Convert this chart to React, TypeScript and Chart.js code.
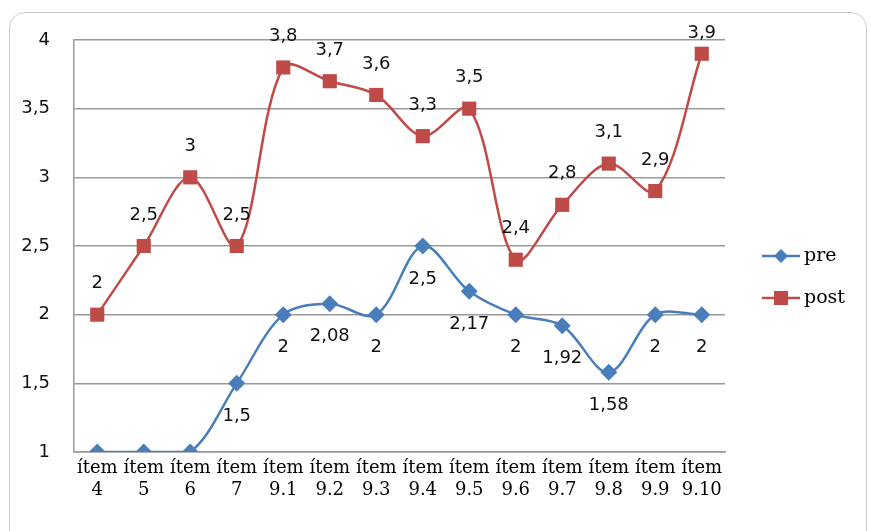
import React, { useEffect, useRef } from "react";
import { Chart, registerables } from "chart.js";

Chart.register(...registerables);

const categories: string[][] = [
  ["ítem", "4"], ["ítem", "5"], ["ítem", "6"], ["ítem", "7"],
  ["ítem", "9.1"], ["ítem", "9.2"], ["ítem", "9.3"], ["ítem", "9.4"],
  ["ítem", "9.5"], ["ítem", "9.6"], ["ítem", "9.7"], ["ítem", "9.8"],
  ["ítem", "9.9"], ["ítem", "9.10"],
];
const preValues = [1, 1, 1, 1.5, 2, 2.08, 2, 2.5, 2.17, 2, 1.92, 1.58, 2, 2];
const postValues = [2, 2.5, 3, 2.5, 3.8, 3.7, 3.6, 3.3, 3.5, 2.4, 2.8, 3.1, 2.9, 3.9];
const yTicks = [1, 1.5, 2, 2.5, 3, 3.5, 4];

const BLUE = "#4A7EBB";
const RED = "#BE4B48";
const fmt = (v: number) => String(v).replace(".", ",");

const labelPlugin = {
  id: "valueLabels",
  afterDatasetsDraw(chart: any) {
    const ctx = chart.ctx;
    ctx.save();
    ctx.font = "18px 'DejaVu Sans'";
    ctx.fillStyle = "#111";
    ctx.textAlign = "center";
    ctx.textBaseline = "middle";
    chart.data.datasets.forEach((ds: any, i: number) => {
      const meta = chart.getDatasetMeta(i);
      meta.data.forEach((pt: any, j: number) => {
        const v = ds.data[j];
        if (i === 0) {
          if (v <= 1) return;
          ctx.fillText(fmt(v), pt.x, pt.y + 33);
        } else {
          ctx.fillText(fmt(v), pt.x, Math.max(pt.y - 31, 33));
        }
      });
    });
    // legend
    const items = [
      { label: "pre", color: BLUE, y: 256, style: "diamond" },
      { label: "post", color: RED, y: 298, style: "square" },
    ];
    items.forEach((it) => {
      ctx.strokeStyle = it.color;
      ctx.lineWidth = 2.5;
      ctx.beginPath();
      ctx.moveTo(762, it.y);
      ctx.lineTo(800, it.y);
      ctx.stroke();
      ctx.fillStyle = it.color;
      ctx.beginPath();
      if (it.style === "diamond") {
        ctx.moveTo(781, it.y - 7);
        ctx.lineTo(788, it.y);
        ctx.lineTo(781, it.y + 7);
        ctx.lineTo(774, it.y);
        ctx.closePath();
        ctx.fill();
      } else {
        ctx.fillRect(774, it.y - 7, 14, 14);
      }
      ctx.fillStyle = "#000";
      ctx.textAlign = "left";
      ctx.font = "19px 'DejaVu Serif'";
      ctx.fillText(it.label, 804, it.y);
    });
    ctx.restore();
  },
};

export default function App() {
  const ref = useRef<HTMLCanvasElement>(null);
  useEffect(() => {
    const chart = new Chart(ref.current!, {
      type: "line",
      data: {
        labels: categories,
        datasets: [
          {
            label: "pre",
            data: preValues,
            borderColor: BLUE,
            backgroundColor: BLUE,
            borderWidth: 2.5,
            tension: 0.33,
            pointStyle: "rectRot",
            pointRadius: 8.5,
            pointBorderWidth: 0,
          },
          {
            label: "post",
            data: postValues,
            borderColor: RED,
            backgroundColor: RED,
            borderWidth: 2.5,
            tension: 0.33,
            pointStyle: "rect",
            pointRadius: 10,
            pointBorderWidth: 0,
          },
        ],
      },
      options: {
        animation: false,
        responsive: false,
        layout: { padding: { top: 40, right: 146, bottom: 0, left: 0 } },
        plugins: { legend: { display: false }, tooltip: { enabled: false }, title: { display: false } },
        scales: {
          x: {
            offset: true,
            grid: { display: false, drawTicks: false },
            border: { display: true, color: "#9a9a9a", width: 1.5 },
            ticks: {
              color: "#000",
              font: { family: "'DejaVu Serif'", size: 18 },
              padding: 6,
              maxRotation: 0,
              autoSkip: false,
            },
            afterFit: (s: any) => { s.height = 79; },
          },
          y: {
            min: 1,
            max: 4,
            afterBuildTicks: (s: any) => { s.ticks = yTicks.map((v) => ({ value: v })); },
            grid: { color: "#9a9a9a", lineWidth: 1.5, drawTicks: false },
            border: { display: true, color: "#9a9a9a", width: 1.5 },
            ticks: {
              color: "#111",
              font: { family: "'DejaVu Sans'", size: 18 },
              padding: 24,
              callback: (v: any) => fmt(Number(v)),
            },
            afterFit: (s: any) => { s.width = 74; },
          },
        },
      },
      plugins: [labelPlugin],
    });
    return () => chart.destroy();
  }, []);
  return (
    <div style={{ position: "fixed", left: 0, top: 0, width: 871, height: 531, background: "#fff", overflow: "hidden" }}>
      <div style={{ position: "absolute", left: 9, top: 12, width: 856, height: 580, border: "1px solid #cccccc", borderRadius: 16 }} />
      <canvas ref={ref} width={871} height={531} style={{ position: "absolute", left: 0, top: 0 }} />
    </div>
  );
}
